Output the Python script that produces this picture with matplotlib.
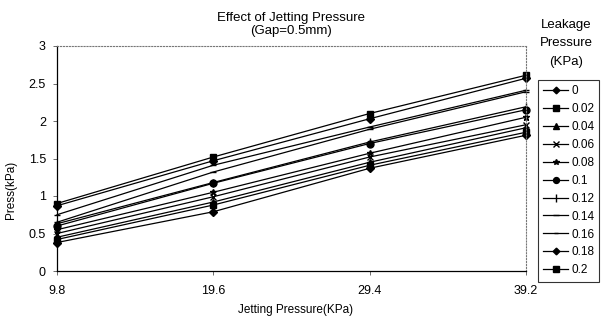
import matplotlib
matplotlib.use("Agg")
import matplotlib.pyplot as plt

plt.rcParams['font.family'] = ['Liberation Sans', 'DejaVu Sans']

# jetting pressure (KPa)
jetting = [9.8, 19.6, 29.4, 39.2]
x_labels = ["9.8", "19.6", "29.4", "39.2"]

# leakage pressure series (KPa) and measured pressure
leak_labels = ["0", "0.02", "0.04", "0.06", "0.08", "0.1", "0.12", "0.14", "0.16", "0.18", "0.2"]
p_000 = [0.38, 0.79, 1.37, 1.81]
p_002 = [0.42, 0.88, 1.41, 1.85]
p_004 = [0.45, 0.92, 1.45, 1.91]
p_006 = [0.50, 0.99, 1.52, 1.95]
p_008 = [0.55, 1.05, 1.57, 2.05]
p_010 = [0.60, 1.17, 1.70, 2.15]
p_012 = [0.63, 1.18, 1.72, 2.19]
p_014 = [0.65, 1.32, 1.89, 2.39]
p_016 = [0.75, 1.41, 1.92, 2.41]
p_018 = [0.87, 1.47, 2.03, 2.57]
p_020 = [0.90, 1.52, 2.10, 2.61]
series = [p_000, p_002, p_004, p_006, p_008, p_010, p_012, p_014, p_016, p_018, p_020]

markers = ['D', 's', '^', 'x', '*', 'o', '|', '_', '_', 'D', 's']
msizes = [4, 5, 5, 5, 5, 5, 6, 5, 4, 4, 5]

fig = plt.figure(figsize=(6.11, 3.2), dpi=100)
ax = fig.add_axes([57/611, 1-271/320, (526-57)/611, (271-46)/320])

for vals, lab, m, ms in zip(series, leak_labels, markers, msizes):
    ax.plot(jetting, vals, color='black', lw=0.9, marker=m, ms=ms,
            mfc='black', mec='black', label=lab, clip_on=False)

ax.set_xlim(9.8, 39.2)
ax.set_ylim(0, 3)
ax.set_xticks(jetting)
ax.set_xticklabels(x_labels)
ax.set_yticks([0, 0.5, 1, 1.5, 2, 2.5, 3])
ax.set_yticklabels(["0", "0.5", "1", "1.5", "2", "2.5", "3"])
ax.tick_params(labelsize=9, length=3, width=0.6, color='#555555', pad=7)
ax.tick_params(axis='y', pad=5)

for s in ['top', 'right']:
    ax.spines[s].set_linestyle(':')
    ax.spines[s].set_color('#777777')
    ax.spines[s].set_linewidth(0.8)
ax.spines['left'].set_linewidth(0.9)
ax.spines['bottom'].set_linewidth(0.9)

fig.text(291/611, 1-18/320, "Effect of Jetting Pressure", ha='center', va='center', fontsize=9.5)
fig.text(291/611, 1-31/320, "(Gap=0.5mm)", ha='center', va='center', fontsize=9.5)

ax.set_xlabel("Jetting Pressure(KPa)", fontsize=8.5)
ax.xaxis.set_label_coords((296-57)/469, -(304-271)/225)
ax.set_ylabel("Press(kPa)", fontsize=8.5)
ax.yaxis.set_label_coords(-(57-17)/469, (271-190)/225)

fig.text(566/611, 1-25/320, "Leakage", ha='center', va='center', fontsize=9.5)
fig.text(566/611, 1-43/320, "Pressure", ha='center', va='center', fontsize=9.5)
fig.text(566/611, 1-62/320, "(KPa)", ha='center', va='center', fontsize=9.5)

leg = fig.legend(loc='upper left', bbox_to_anchor=(538/611, 1-80/320),
                 fontsize=8.5, frameon=True, fancybox=False, handlelength=2.1,
                 labelspacing=0.5, borderpad=0.45, handletextpad=0.25,
                 borderaxespad=0, markerscale=0.85)
leg.get_frame().set_edgecolor('black')
leg.get_frame().set_linewidth(0.8)

fig.savefig("out.png", dpi=100)
